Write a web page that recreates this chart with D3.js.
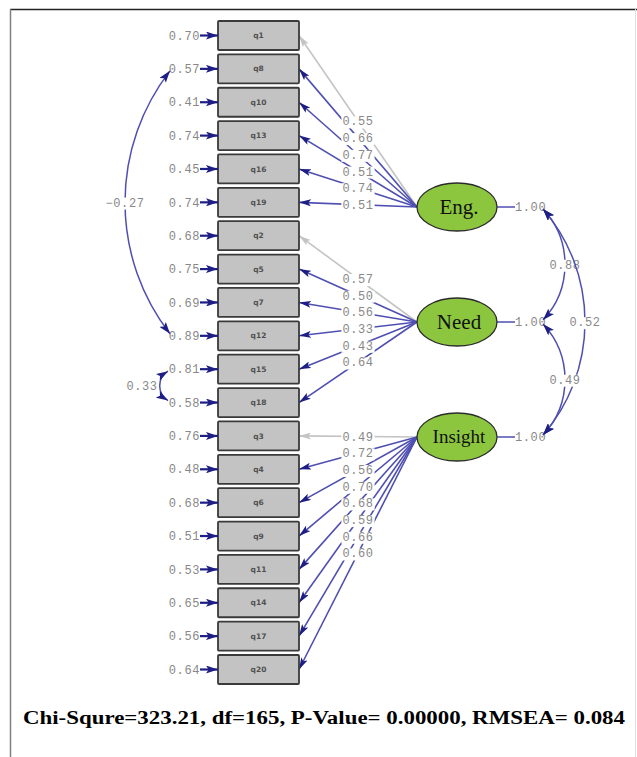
<!DOCTYPE html>
<html><head><meta charset="utf-8">
<script src="https://cdn.jsdelivr.net/npm/d3@7"></script>
<style>
body{margin:0;background:#fff;}
svg{display:block;}
</style></head><body>
<svg id="chart" width="637" height="757"></svg>
<script>
/* 測定モデル (LISREL風パス図) */
const indicators = ["q1","q8","q10","q13","q16","q19","q2","q5","q7","q12","q15","q18","q3","q4","q6","q9","q11","q14","q17","q20"];
const errorVar   = [0.70,0.57,0.41,0.74,0.45,0.74,0.68,0.75,0.69,0.89,0.81,0.58,0.76,0.48,0.68,0.51,0.53,0.65,0.56,0.64];
const factors    = ["Eng.","Need","Insight"];
const factorOf   = [0,0,0,0,0,0,1,1,1,1,1,1,2,2,2,2,2,2,2,2];
const loadings   = [0.55,0.66,0.77,0.51,0.74,0.51, 0.57,0.50,0.56,0.33,0.43,0.64, 0.49,0.72,0.56,0.70,0.68,0.59,0.66,0.60];
const fixedRef   = ["q1","q2","q3"];
const factorVar  = [1.00,1.00,1.00];
const factorCov  = [[0,1,0.88],[0,2,0.52],[1,2,0.49]];
const errorCov   = [["q8","q12",-0.27],["q15","q18",0.33]];
const fitText    = "Chi-Squre=323.21, df=165, P-Value= 0.00000, RMSEA= 0.084";

const svg = d3.select("#chart");
const fmt = d3.format(".2f");
const NUM_FONT = "'Liberation Mono','DejaVu Sans Mono',monospace";
const NAVY = "#1e1e84", LINE = "#4f4fb2", GREY = "#c4c4c4";

/* ---------------- scales / layout ---------------- */
const y  = d3.scalePoint().domain(indicators).range([35.5, 669.5]);
const fy = d3.scalePoint().domain(factors).range([207, 437]);
const box = {x:218, w:81, h:29};
const lat = {cx:457, rx:40, ry:24};
const covX = 543;

/* frame */
svg.append("line").attr("x1",10).attr("x2",637).attr("y1",9.5).attr("y2",9.5)
  .attr("stroke","#222").attr("stroke-width",1.5);
svg.append("line").attr("x1",10.5).attr("x2",10.5).attr("y1",9).attr("y2",757)
  .attr("stroke","#808080").attr("stroke-width",1.5);
svg.append("line").attr("x1",635.5).attr("x2",635.5).attr("y1",9).attr("y2",757)
  .attr("stroke","#e0e0e0").attr("stroke-width",1);

/* markers */
const defs = svg.append("defs");
function marker(id, color, w, h){
  defs.append("marker").attr("id",id).attr("viewBox",`0 0 ${w} ${h}`)
    .attr("refX",w).attr("refY",h/2).attr("markerWidth",w).attr("markerHeight",h)
    .attr("markerUnits","userSpaceOnUse").attr("orient","auto-start-reverse")
    .append("path").attr("d",`M0,0 L${w},${h/2} L0,${h} L${w*0.22},${h/2} Z`).attr("fill",color);
}
marker("navy", NAVY, 12, 7);
marker("navyBig", NAVY, 12, 8);
marker("grey", GREY, 12, 7);

function numLabel(g, x, yy, txt, anchor, bg){
  const t = g.append("text").attr("x",x).attr("y",yy).attr("dy","0.35em")
    .attr("text-anchor",anchor||"middle").attr("font-family",NUM_FONT)
    .attr("font-size",12).attr("letter-spacing",0.6).attr("fill","#888").text(txt);
  if(bg){
    const b = t.node().getBBox();
    g.insert("rect", () => t.node()).attr("x",b.x-1).attr("y",b.y+1)
      .attr("width",b.width+2).attr("height",b.height-2).attr("fill","#fff");
  }
  return t;
}

/* ---------------- loadings ---------------- */
const gL = svg.append("g");
indicators.forEach((q,i)=>{
  const f = factors[factorOf[i]];
  const x0 = lat.cx - lat.rx, y0 = fy(f);
  const x1 = box.x + box.w, y1 = y(q);
  const fixed = fixedRef.includes(q);
  gL.append("line").attr("x1",x0).attr("y1",y0).attr("x2",x1).attr("y2",y1)
    .attr("stroke", fixed ? GREY : LINE).attr("stroke-width",1.6)
    .attr("marker-end", fixed ? "url(#grey)" : "url(#navy)");
});
indicators.forEach((q,i)=>{
  const f = factors[factorOf[i]];
  const mx = (lat.cx - lat.rx + box.x + box.w)/2, my = (fy(f) + y(q))/2;
  numLabel(gL.append("g"), mx, my, fmt(loadings[i]), "middle", true);
});

/* ---------------- boxes & errors ---------------- */
const gB = svg.append("g");
indicators.forEach((q,i)=>{
  const cy = y(q);
  gB.append("rect").attr("x",box.x).attr("y",cy-box.h/2).attr("width",box.w).attr("height",box.h)
    .attr("fill","#c3c3c3").attr("stroke","#3a3a3a").attr("stroke-width",1.8).attr("rx",1);
  gB.append("text").attr("x",box.x+box.w/2).attr("y",cy).attr("dy","0.35em")
    .attr("text-anchor","middle").attr("font-family","'DejaVu Sans',sans-serif")
    .attr("font-size",7.5).attr("font-weight","bold").attr("fill","#505050").text(q);
  gB.append("line").attr("x1",200).attr("y1",cy).attr("x2",box.x).attr("y2",cy)
    .attr("stroke",NAVY).attr("stroke-width",2.2).attr("marker-end","url(#navyBig)");
  numLabel(gB, 200, cy, fmt(errorVar[i]), "end", false);
});

/* error covariances (left arcs) */
function arcPath(xs, ya, yb, bulge, side){
  const h = Math.abs(yb-ya)/2;
  const r = (h*h + bulge*bulge)/(2*bulge);
  return `M${xs},${ya} A${r},${r} 0 0 ${side>0?1:0} ${xs},${yb}`;
}
const gE = svg.append("g");
errorCov.forEach(([a,b,v])=>{
  const span = y(b)-y(a);
  const bulge = span > 100 ? 45 : 26;
  const xs = span > 100 ? 170 : 168;
  gE.append("path").attr("d", arcPath(xs, y(a)+2, y(b)-2, bulge, -1))
    .attr("fill","none").attr("stroke",LINE).attr("stroke-width",1.5)
    .attr("marker-start","url(#navyBig)").attr("marker-end","url(#navyBig)");
  numLabel(gE, xs - bulge, (y(a)+y(b))/2, fmt(v), "middle", true);
});

/* ---------------- latent variables ---------------- */
const gF = svg.append("g");
factors.forEach((f,k)=>{
  const cy = fy(f);
  gF.append("line").attr("x1",lat.cx+lat.rx).attr("x2",515).attr("y1",cy).attr("y2",cy)
    .attr("stroke",LINE).attr("stroke-width",1.5);
  numLabel(gF, 515, cy, fmt(factorVar[k]), "start", false);
  gF.append("ellipse").attr("cx",lat.cx).attr("cy",cy).attr("rx",lat.rx).attr("ry",lat.ry)
    .attr("fill","#8cc63f").attr("stroke","#2c2c2c").attr("stroke-width",1.3);
  gF.append("text").attr("x",lat.cx+2).attr("y",cy).attr("dy","0.33em")
    .attr("text-anchor","middle").attr("font-family","'Liberation Serif','Times New Roman',serif")
    .attr("font-size", f==="Insight" ? 19 : 21).attr("fill","#111").text(f);
});

/* factor covariances (right arcs) */
const gC = svg.append("g");
factorCov.forEach(([a,b,v])=>{
  const ya = fy(factors[a]), yb = fy(factors[b]);
  const bulge = (b-a) > 1 ? 42 : 22;
  gC.append("path").attr("d", arcPath(covX, ya+2, yb-2, bulge, 1))
    .attr("fill","none").attr("stroke",LINE).attr("stroke-width",1.5)
    .attr("marker-start","url(#navyBig)").attr("marker-end","url(#navyBig)");
  numLabel(gC, covX + bulge, (ya+yb)/2, fmt(v), "middle", true);
});

/* ---------------- fit statistics ---------------- */
svg.append("text").attr("x",23).attr("y",724)
  .attr("font-family","'Liberation Serif','Times New Roman',serif").attr("font-weight","bold")
  .attr("font-size",18).attr("fill","#000")
  .attr("textLength",602).attr("lengthAdjust","spacingAndGlyphs").text(fitText);
</script>
</body></html>
